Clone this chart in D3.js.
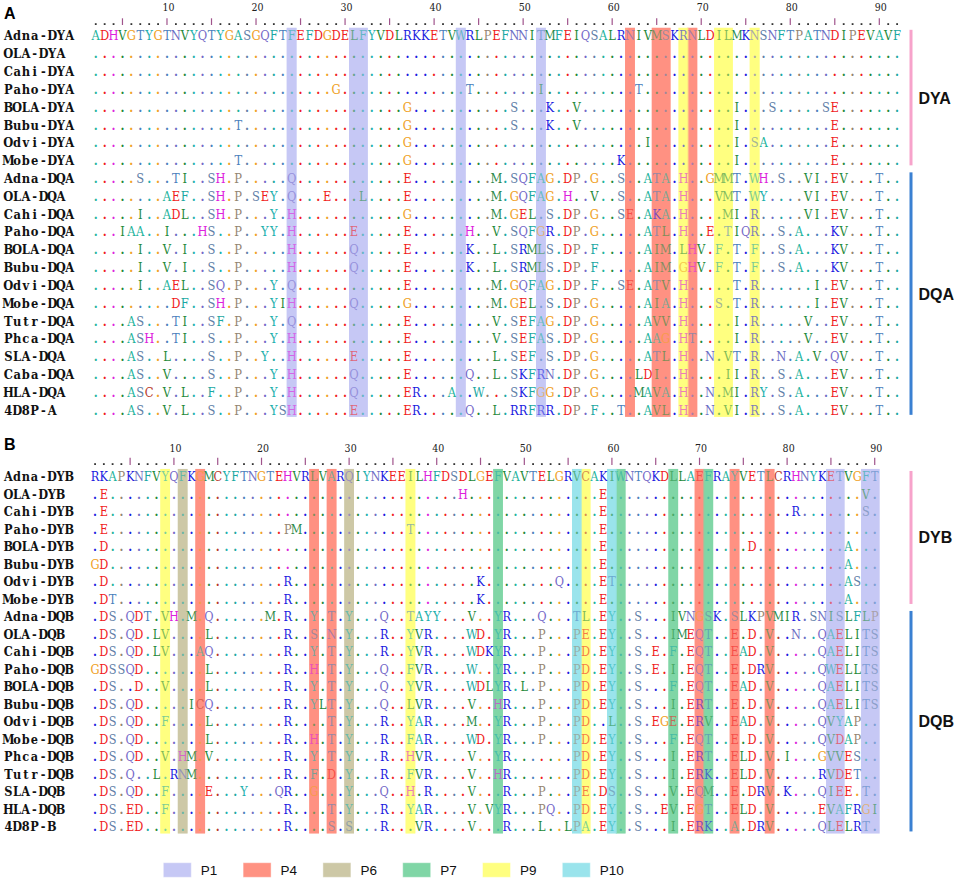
<!DOCTYPE html>
<html>
<head>
<meta charset="utf-8">
<script src="https://cdn.jsdelivr.net/npm/d3@7/dist/d3.min.js"></script>
<style>
  body { margin: 0; background: #fff; }
  svg { display: block; }
</style>
</head>
<body>
<svg id="chart" width="957" height="880"></svg>
<script>
// ---- data: panel A (DYA / DQA) ----
const refA = 'ADHVGTYGTNVYQTYGASGQFTFEFDGDELFYVDLRKKETVWRLPEFNNITMFEIQSALRNIVMSKRNLDILMKNSNFTPATNDIPEVAVF';
const namesA = ['Adna-DYA', 'OLA-DYA', 'Cahi-DYA', 'Paho-DYA', 'BOLA-DYA', 'Bubu-DYA', 'Odvi-DYA', 'Mobe-DYA',
  'Adna-DQA', 'OLA-DQA', 'Cahi-DQA', 'Paho-DQA', 'BOLA-DQA', 'Bubu-DQA', 'Odvi-DQA', 'Mobe-DQA',
  'Tutr-DQA', 'Phca-DQA', 'SLA-DQA', 'Caba-DQA', 'HLA-DQA', '4D8P-A'];
// substitutions against the first row: column + residue, dots elsewhere
const diffsA = [
  'ref',
  '',
  '',
  '28G 43T 51I 62T',
  '36G 48S 52K 55V 73I 77S 83S 84E',
  '17T 36G 48S 52K 55V 73I 84E',
  '36G 63I 73I 75S 76A 84E',
  '17T 36G 60K 73I 84E',
  '6S 10T 11I 14S 15H 17P 23Q 36E 46M 48S 49Q 50F 51A 52G 54D 55P 57G 60S 63A 64T 65A 67H 70G 71M 72M 73T 75W 76H 78S 81V 82I 84E 85V 89T',
  '9A 10E 11F 14S 15H 17P 19S 20E 21Y 23Q 27E 31L 36E 46M 48G 49Q 50F 51A 52G 54H 57V 60S 63A 64T 65A 67H 71V 72M 73T 75W 76Y 81V 82I 84E 85V 89T',
  '6I 9A 10D 11L 14S 15H 17P 21Y 23H 36G 46M 48G 49E 50L 52S 54D 55P 57G 60S 61E 63A 64K 65A 67H 72M 73I 75R 81V 82I 84E 85V 89T',
  '4I 5A 6A 9I 13H 14S 17P 20Y 21Y 23H 30E 36E 43H 46V 48S 49Q 50F 51G 52R 54D 55P 57G 63A 64T 65L 67H 70E 72T 73I 74Q 75R 78S 80A 84K 85V 89T',
  '6I 9V 11I 14S 17P 23H 30Q 36E 43K 46L 48S 49R 50M 51L 52S 54D 55P 57F 63A 64I 65M 67L 68H 69V 71F 73T 75F 78S 80A 84K 85V 89T',
  '6I 9V 11I 14S 17P 23H 30Q 36E 43K 46L 48S 49R 50M 51L 52S 54D 55P 57F 63A 64I 65M 67G 68H 69V 71F 73T 75F 78S 80A 84K 85V 89T',
  '6I 9A 10E 11L 14S 15Q 17P 21Y 23Q 36E 46M 48G 49Q 50F 51A 52G 54D 55P 57F 60S 61E 63A 64T 65V 67H 73T 75R 82I 84E 85V 89T',
  '10D 11F 14S 15H 17P 21Y 22I 23H 30Q 36G 46M 48G 49E 50L 52S 54D 55P 57G 63A 64I 65A 67H 71S 73T 75R 82I 84E 85V 89T',
  '5A 6S 10T 11I 14S 15F 17P 21Y 23Q 36E 46V 48S 49E 50F 51A 52G 54D 55P 57G 63A 64V 65V 67H 73I 75R 81V 84E 85V 89T',
  '5A 6S 7H 10T 11I 14S 17P 21Y 23H 36E 46V 48S 49E 50F 51A 52S 54D 55P 57G 63A 64A 65G 67H 68T 73I 75R 81V 84E 85V 89T',
  '5A 6S 9L 14S 17P 20Y 23H 30E 36E 46L 48S 49E 50F 52S 54D 55P 57G 63A 64T 65L 67H 70N 72V 73T 75R 78N 80A 82V 84Q 85V 89T',
  '5A 6S 9V 14S 17P 21Y 23H 30Q 36E 43Q 46L 48S 49K 50F 51R 52N 54D 55P 57G 62L 63D 64I 67H 72I 73I 75R 78S 80A 84E 85V 89T',
  '5A 6S 7C 9V 11L 14F 17P 21Y 23H 30Q 36E 37R 41A 44W 48S 49K 50F 51G 52G 54D 55P 57G 62M 63A 64V 65A 67H 70N 72M 73I 75R 76Y 78S 80A 84E 85V 89T',
  '5A 6S 9V 11L 14S 17P 21Y 22S 23H 30E 36E 37R 43Q 46L 48R 49R 50F 51R 52R 54D 55P 57F 60T 63A 64V 65L 67H 70N 72V 73I 75R 78S 80A 84E 85V 89T'
];
const startA = 2;           // ruler number of the first column
const tickLabelsA = ['10', '20', '30', '40', '50', '60', '70', '80', '90'];
const pocketsA = { P1: [23, 30, 31, 42, 51], P4: [61, 64, 65, 68], P9: [67, 71, 72, 75] };
const groupsA = [['DYA', 'Adna-DYA', 'Mobe-DYA'], ['DQA', 'Adna-DQA', '4D8P-A']];

// ---- data: panel B (DYB / DQB) ----
const refB = 'RKAPKNFVYQFKGMCYFTNGTEHVRLVARQIYNKEEILHFDSDLGEFVAVTELGRVCAKIWNTQKDLLAEFRAYVETLCRHNYKETVGFT';
const namesB = ['Adna-DYB', 'OLA-DYB', 'Cahi-DYB', 'Paho-DYB', 'BOLA-DYB', 'Bubu-DYB', 'Odvi-DYB', 'Mobe-DYB',
  'Adna-DQB', 'OLA-DQB', 'Cahi-DQB', 'Paho-DQB', 'BOLA-DQB', 'Bubu-DQB', 'Odvi-DQB', 'Mobe-DQB',
  'Phca-DQB', 'Tutr-DQB', 'SLA-DQB', 'HLA-DQB', '4D8P-B'];
const diffsB = [
  'ref',
  '2E 43H 59E 89V',
  '2E 59E 81R 89S',
  '2E 23P 24M 37T 59E',
  '2D 59E 76D 87A',
  '1G 2D 59E 87A',
  '2D 23R 45K 54Q 59E 60T 87A 88S',
  '2D 3T 23R 45K 59E 87A',
  '2D 3S 5Q 6D 7T 9V 10H 12M 14Q 21M 23R 26Y 28T 30Y 34Q 37T 38A 39Y 40Y 44V 47Y 48R 52Q 56T 57L 59E 60Y 63S 67I 68V 69N 70G 71S 72K 74S 75L 76K 77P 78V 79M 80I 81R 83S 84N 85I 86S 87L 88F 89L 90P',
  '2D 3S 5Q 6D 8L 9V 14L 23R 26S 28N 30Y 34R 37Y 38V 39R 44W 45D 47Y 48R 52P 56P 57E 59E 60Y 63S 67I 68M 69E 70Q 71T 74E 76D 78V 81N 84Q 85A 86E 87L 88I 89T 90S',
  '2D 3S 5Q 6D 8L 9V 13A 14Q 23R 26Y 28T 30Y 34R 37Y 38V 39R 44W 45D 46K 47Y 48R 52P 56P 57D 59E 60Y 63S 65E 67F 69E 70Q 71T 74E 75A 76D 78V 84Q 85A 86E 87L 88I 89T 90S',
  '1G 2D 3S 4S 5Q 6D 14L 23R 26H 28T 30Y 34Q 37F 38V 39R 44W 47Y 48R 52P 56P 57D 59E 60Y 63S 65E 67I 69E 70Q 71T 74E 76D 77R 78V 84Q 85W 86E 87L 88L 89T 90S',
  '2D 3S 6D 9V 14L 23R 26Y 28T 30Y 34Q 37Y 38V 39R 44W 45D 46L 47Y 48R 50L 52P 56P 57D 59E 60Y 63S 67F 69E 70Q 71T 74E 75A 76D 78V 84Q 85A 86E 87L 88I 89T 90S',
  '2D 3S 5Q 6D 12I 13C 14Q 23R 26Y 27L 28T 30Y 34Q 37L 38V 39R 44V 47H 48R 52P 56P 57D 59E 60Y 63S 67I 69E 70R 71T 74E 76D 78V 84Q 85A 86E 87L 88I 89T 90S',
  '2D 3S 5Q 6D 9F 14L 23R 28T 30Y 34R 37Y 38A 39R 44M 47Y 48R 52P 56P 57D 60L 63S 65E 66G 67E 69E 70R 71V 74E 75A 76D 78V 84Q 85V 86Y 87A 88P',
  '2D 3S 5Q 6D 14L 23R 26H 28T 30Y 34R 37F 38A 39R 44W 45D 47Y 48R 52P 56P 57D 59E 60Y 63S 67F 69E 70Q 71T 74E 76D 78V 84Q 85V 86D 87A 88P',
  '2D 3S 5Q 6D 9V 11H 12M 14V 23R 26Y 28T 30Y 34R 37H 38V 39R 44V 47Y 48R 56P 57D 59E 60Y 63S 67I 69E 70R 71T 74E 75L 76D 78V 80I 84G 85V 86V 87E 88S',
  '2D 3S 5Q 8L 10R 11N 12M 23R 26F 28D 30Y 34R 37F 38V 39R 44V 47H 48R 56P 57D 59E 60Y 63S 67I 69E 70R 71K 74E 75L 76D 78V 84R 85V 86D 87E 88T',
  '2D 3S 5Q 6D 9F 14E 18Y 22Q 23R 26G 30Y 34Q 37H 39R 44V 48R 52P 56P 57E 59D 60S 63S 67V 69E 70Q 71M 74E 76D 77R 78V 80K 84Q 85I 86E 87E 89T',
  '2D 3S 5E 6D 9F 23R 28T 30Y 34R 37Y 38A 39R 44V 46V 47Y 48R 52P 53Q 56P 57D 59E 60Y 63S 66E 67V 69E 70G 71T 74E 75L 76D 78V 84E 85V 86A 87F 88R 89G 90I',
  '2D 3S 5E 6D 23R 28S 30S 34R 38V 39R 44V 48R 52L 55L 56P 57A 59E 60Y 63S 67I 69E 70R 71K 74A 76D 77R 78V 84Q 85L 86E 87L 88R 89T'
];
const startB = 1;
const tickLabelsB = ['10', '20', '30', '40', '50', '60', '70', '80', '90'];
const pocketsB = { P1: [85, 86, 89, 90], P4: [13, 26, 28, 70, 74, 78], P6: [11, 30], P7: [47, 61, 67, 71], P9: [9, 37, 57], P10: [56, 60] };
const groupsB = [['DYB', 'Adna-DYB', 'Mobe-DYB'], ['DQB', 'Adna-DQB', '4D8P-B']];

const pocketNames = ['P1', 'P4', 'P6', 'P7', 'P9', 'P10'];

// ---- styles ----
const pocketColor = { P1: '#c6c8f5', P4: '#ff9282', P6: '#cdc8a6', P7: '#80d6a6', P9: '#ffff80', P10: '#9ae4ec' };
const groupColor = { DYA: '#f7a3cb', DQA: '#3a80d2', DYB: '#f7a3cb', DQB: '#3a80d2' };
const residueColor = {
  A: '#1db39c', R: '#1b1be0', K: '#1b1be0', N: '#6d6dc4', Q: '#7468c8', D: '#f01c1c', E: '#f01c1c',
  C: '#b83a2a', G: '#f0a126', H: '#dd22dd', I: '#1f8a3a', L: '#1f8a3a', V: '#1f8a3a', M: '#2a8a4a',
  F: '#1aa8a2', W: '#1aa8a2', Y: '#1cb0ae', P: '#948470', S: '#5f80a8', T: '#4a80bc'
};
// courier-like look: a slab serif squeezed into monospace cells
const SERIF = "'DejaVu Serif', 'Liberation Serif', serif";
const SANS = "'Liberation Sans', Arial, sans-serif";
const SQUEEZE = 0.86;

function expand(ref, diff) {
  if (diff === 'ref') return ref.split('');
  const seq = Array(ref.length).fill('.');
  diff.split(' ').filter(Boolean).forEach((t) => {
    seq[+t.slice(0, -1) - 1] = t.slice(-1);
  });
  return seq;
}

function runs(cols) {
  const sorted = cols.slice().sort((a, b) => a - b);
  const out = [];
  sorted.forEach((c) => {
    const last = out[out.length - 1];
    if (last && c === last[1] + 1) last[1] = c;
    else out.push([c, c]);
  });
  return out;
}

function drawPanel(svg, p) {
  const n = p.ref.length;
  const g = svg.append('g');
  const x = d3.scaleBand().domain(d3.range(1, n + 1)).range([p.x0, p.x0 + n * p.cw]);
  const y = d3.scaleBand().domain(p.names).range([p.yTop, p.yTop + p.names.length * p.rh]);
  const rows = p.names.map((name, i) => ({ name, seq: expand(p.ref, p.diffs[i]) }));
  const boxTop = p.yTop + 1;
  const boxH = p.names.length * p.rh - 3;
  const baseY = (name) => y(name) + p.rh / 2 + 4.7;

  const boxes = [];
  Object.keys(p.pockets).forEach((k) => {
    runs(p.pockets[k]).forEach(([a, b]) => boxes.push({ k, a, b }));
  });

  const drawBoxes = (layer, opacity) => layer.selectAll('rect')
    .data(boxes)
    .join('rect')
    .attr('x', (d) => x(d.a) - 0.5)
    .attr('width', (d) => x(d.b) - x(d.a) + p.cw + 1)
    .attr('y', boxTop)
    .attr('height', boxH)
    .attr('fill', (d) => pocketColor[d.k])
    .attr('opacity', opacity);

  drawBoxes(g.append('g'), 1);

  // panel letter
  g.append('text')
    .attr('x', 4).attr('y', p.letterY)
    .attr('font-family', SANS).attr('font-weight', 'bold').attr('font-size', 16)
    .text(p.letter);

  // ruler
  const ruler = g.append('g');
  d3.range(1, n + 1).forEach((c) => {
    const num = p.start + c - 1;
    const cx = x(c) + p.cw / 2;
    if (num > 0 && num % 5 === 0) {
      ruler.append('line')
        .attr('x1', cx).attr('x2', cx)
        .attr('y1', p.tickY[0]).attr('y2', p.tickY[1])
        .attr('stroke', '#a0548c').attr('stroke-width', 1.2);
    } else {
      ruler.append('rect')
        .attr('x', cx - 0.9).attr('y', p.tickY[1] - 1.8)
        .attr('width', 1.8).attr('height', 1.8)
        .attr('fill', '#333');
    }
    if (p.tickLabels.includes(String(num))) {
      const t = ruler.append('g')
        .attr('transform', `translate(${cx + 1.5},${p.numY}) scale(${SQUEEZE},1)`);
      t.append('text')
        .attr('text-anchor', 'middle')
        .attr('font-family', SERIF).attr('font-size', 11)
        .attr('fill', '#222')
        .text(String(num));
    }
  });

  // sequence names, one glyph per monospace cell
  const nameChars = [];
  rows.forEach((r) => r.name.split('').forEach((ch, i) => nameChars.push({ name: r.name, i, ch })));
  g.append('g').selectAll('text')
    .data(nameChars)
    .join('text')
    .attr('transform', (d) => `translate(${4 + (d.i + 0.5) * p.lw},${baseY(d.name)}) scale(${SQUEEZE},1)`)
    .attr('text-anchor', 'middle')
    .attr('font-family', SERIF).attr('font-weight', 'bold').attr('font-size', p.fs)
    .attr('fill', '#111')
    .text((d) => d.ch);

  // residues
  const cells = [];
  rows.forEach((r) => r.seq.forEach((ch, i) => cells.push({ name: r.name, col: i + 1, ch })));
  g.append('g').selectAll('text')
    .data(cells)
    .join('text')
    .attr('transform', (d) => `translate(${x(d.col) + p.cw / 2},${baseY(d.name)}) scale(${SQUEEZE},1)`)
    .attr('text-anchor', 'middle')
    .attr('font-family', SERIF).attr('font-size', p.fs)
    .attr('font-weight', (d) => (d.ch === '.' ? 'bold' : 'normal'))
    .attr('fill', (d) => residueColor[d.ch === '.' ? p.ref[d.col - 1] : d.ch] || '#444')
    .text((d) => d.ch);

  // tint residues inside the pocket columns
  drawBoxes(g.append('g'), 0.42);

  // group bars and labels
  p.groups.forEach(([label, first, last]) => {
    const top = y(first) + 3;
    const bottom = y(last) + p.rh - 4;
    g.append('rect')
      .attr('x', p.barX).attr('width', 3)
      .attr('y', top).attr('height', bottom - top)
      .attr('fill', groupColor[label]);
    g.append('text')
      .attr('x', p.barX + 9).attr('y', (top + bottom) / 2 + 6)
      .attr('font-family', SANS).attr('font-weight', 'bold').attr('font-size', 16)
      .attr('fill', '#111')
      .text(label);
  });
}

const svg = d3.select('#chart');

drawPanel(svg, {
  letter: 'A', letterY: 18.5, ref: refA, names: namesA, diffs: diffsA, start: startA,
  tickLabels: tickLabelsA, pockets: pocketsA, groups: groupsA,
  x0: 91.3, cw: 8.904, lw: 8.75, yTop: 26.8, rh: 17.82, fs: 13.4,
  numY: 11, tickY: [18.3, 25], barX: 909.5
});

drawPanel(svg, {
  letter: 'B', letterY: 450, ref: refB, names: namesB, diffs: diffsB, start: startB,
  tickLabels: tickLabelsB, pockets: pocketsB, groups: groupsB,
  x0: 90.7, cw: 8.76, lw: 8.7, yTop: 467.95, rh: 17.5, fs: 13.2,
  numY: 452, tickY: [457.7, 465], barX: 909.5
});

// legend
const lx = d3.scaleLinear().domain([0, pocketNames.length - 1]).range([163.3, 562.3]);
const legend = svg.append('g').selectAll('g')
  .data(pocketNames)
  .join('g')
  .attr('transform', (d, i) => `translate(${lx(i)},862.7)`);
legend.append('rect')
  .attr('width', 28).attr('height', 14.6)
  .attr('fill', (d) => pocketColor[d])
  .attr('stroke', '#fff').attr('stroke-opacity', 0.45);
legend.append('text')
  .attr('x', 37.5).attr('y', 12)
  .attr('font-family', SANS).attr('font-size', 13.5)
  .attr('fill', '#111')
  .text((d) => d);
</script>
</body>
</html>
